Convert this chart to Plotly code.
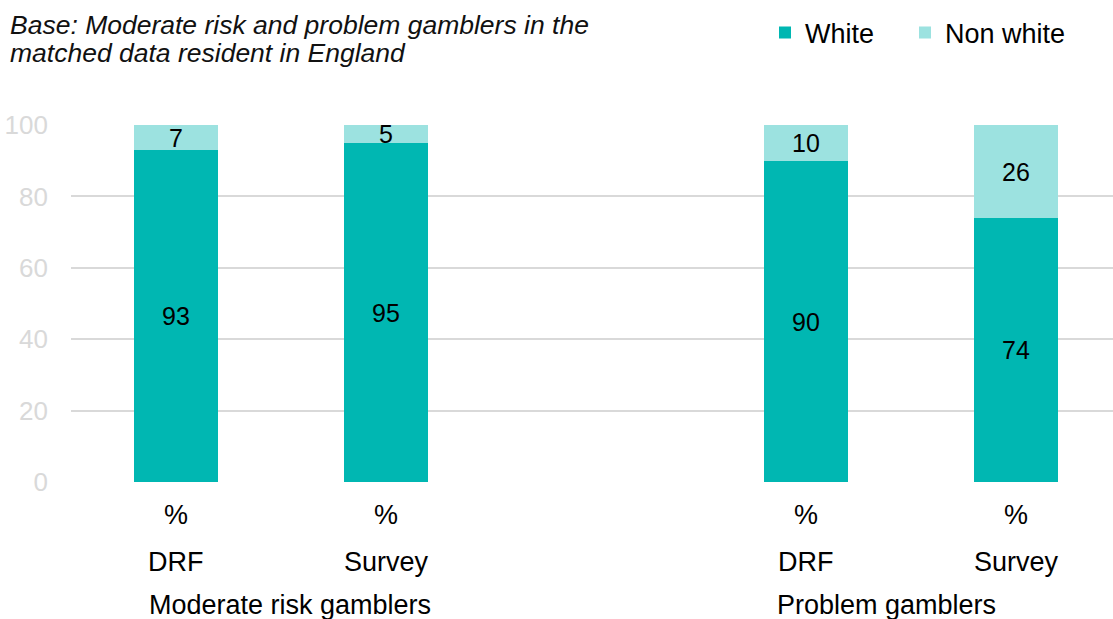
import plotly.graph_objects as go

# Ethnicity split of moderate risk and problem gamblers, DRF vs survey
groups = ["Moderate risk gamblers", "Problem gamblers"]
sources = ["DRF", "Survey", "DRF", "Survey"]
slots = [0, 1, 3, 4]          # slot 2 is left empty between the two groups
white = [93, 95, 90, 74]
non_white = [7, 5, 10, 26]
y_ticks = [0, 20, 40, 60, 80, 100]
base_lines = ["Base: Moderate risk and problem gamblers in the",
              "matched data resident in England"]

FONT = "Liberation Sans, Arial, sans-serif"
TEAL = "#00B7B2"
LIGHT_TEAL = "#9CE2E0"
PLOT_W, PLOT_H, LEFT, BOTTOM = 1042, 357, 71, 482


def px_x(px):
    """Horizontal pixel position -> paper coordinate."""
    return (px - LEFT) / PLOT_W


def px_y(py):
    """Vertical pixel position -> paper coordinate."""
    return (BOTTOM - py) / PLOT_H


fig = go.Figure()
for name, vals, color, leg in [("White", white, TEAL, "legend"),
                               ("Non white", non_white, LIGHT_TEAL, "legend2")]:
    fig.add_trace(go.Bar(
        name=name, x=slots, y=vals, width=0.4, legend=leg,
        marker=dict(color=color, line=dict(width=0)),
        text=[str(v) for v in vals], textposition="inside",
        insidetextanchor="middle", textangle=0, constraintext="none",
        textfont=dict(family=FONT, size=25, color="#000000"),
        hoverinfo="skip",
    ))

label_font = dict(family=FONT, size=27, color="#000000")
annotations = []
for s, src in zip(slots, sources):
    annotations.append(dict(x=s, y=0, xref="x", yref="paper", text="%", showarrow=False,
                            yanchor="middle", yshift=-33, font=label_font))
    annotations.append(dict(x=s, y=0, xref="x", yref="paper", text=src, showarrow=False,
                            yanchor="middle", yshift=-80, font=label_font))
for gx, g in zip([0.543, 3.381], groups):
    annotations.append(dict(x=gx, y=0, xref="x", yref="paper", text=g, showarrow=False,
                            yanchor="middle", yshift=-123, font=label_font))

# Italic base note, two lines in the top-left corner
for line, py in zip(base_lines, [25, 53]):
    annotations.append(dict(x=px_x(8), y=px_y(py), xref="paper", yref="paper",
                            text=line, showarrow=False, xanchor="left", yanchor="middle",
                            font=dict(family=FONT, size=26.5, color="#111111", style="italic")))

legend_style = dict(orientation="h", yanchor="middle", xanchor="left", y=px_y(33),
                    font=dict(family=FONT, size=27, color="#000000"),
                    bgcolor="rgba(0,0,0,0)")

fig.update_layout(
    width=1113, height=619,
    margin=dict(l=LEFT, r=1113 - LEFT - PLOT_W, t=BOTTOM - PLOT_H, b=619 - BOTTOM),
    paper_bgcolor="white", plot_bgcolor="white",
    barmode="stack", bargap=0,
    font=dict(family=FONT, size=25, color="#000000"),
    legend=dict(x=px_x(765), **legend_style),
    legend2=dict(x=px_x(905), **legend_style),
    xaxis=dict(range=[-0.5, -0.5 + PLOT_W / 210], showticklabels=False,
               showgrid=False, zeroline=False, showline=False, fixedrange=True),
    yaxis=dict(range=[0, 100], tickvals=y_ticks, showgrid=True, gridcolor="#D9D9D9",
               gridwidth=1.5, zeroline=False, showline=False,
               tickfont=dict(family=FONT, size=26, color="#D9D9D9"),
               ticklabelstandoff=22),
    annotations=annotations,
    showlegend=True,
)

fig.write_html("out.html")
